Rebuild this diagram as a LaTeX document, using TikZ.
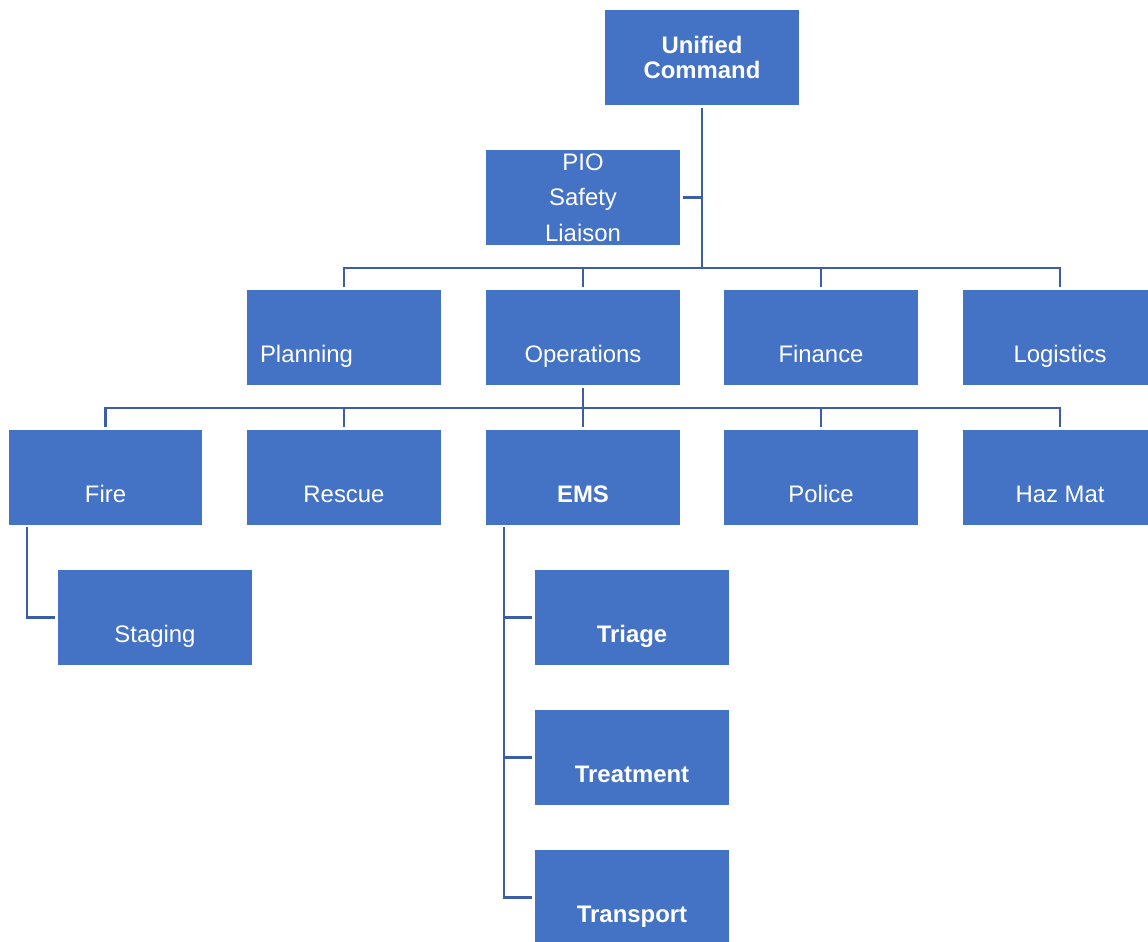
\documentclass[tikz,border=0pt]{standalone}
\usepackage{fontspec}
\setmainfont{Liberation Sans}
\usepackage{tikz}
\usetikzlibrary{positioning}

\definecolor{boxblue}{RGB}{68,114,196}
\definecolor{lineblue}{RGB}{59,94,166}

\tikzset{
    unit/.style={rectangle, fill=boxblue, text=white, minimum width=3.88cm, minimum height=1.9cm,
        inner sep=0pt, outer sep=1.5pt, font=\fontsize{13.6}{16}\selectfont},
    low/.style={text height=1.1cm, text depth=0.12cm},
    strong/.style={font=\bfseries\fontsize{13.6}{16}\selectfont},
    link/.style={draw=lineblue, line width=1.6pt}
}

\begin{document}
\begin{tikzpicture}[x=0.02cm, y=-0.02cm]
    \clip (0, 0) rectangle (1148, 941);
    \fill[white] (0, 0) rectangle (1148, 941);

    % top of the chart
    \node[unit, align=center, font=\bfseries\fontsize{13.6}{13.8}\selectfont] (uc) at (702, 57.5) {Unified\\Command};
    \node[unit, align=center, font=\fontsize{13.6}{20.2}\selectfont] (staff) at (583, 197.5) {PIO\\Safety\\Liaison};

    % sections
    \node[unit, low, text width=3.36cm, align=left] (planning) at (344, 337.5) {Planning};
    \node[unit, low] (operations) at (583, 337.5) {Operations};
    \node[unit, low] (finance) at (821, 337.5) {Finance};
    \node[unit, low] (logistics) at (1060, 337.5) {Logistics};

    % operations branches
    \node[unit, low] (fire) at (105.5, 477.5) {Fire};
    \node[unit, low] (rescue) at (344, 477.5) {Rescue};
    \node[unit, low, strong] (ems) at (583, 477.5) {EMS};
    \node[unit, low] (police) at (821, 477.5) {Police};
    \node[unit, low] (hazmat) at (1060, 477.5) {Haz Mat};

    \node[unit, low] (staging) at (155, 617.5) {Staging};
    \node[unit, low, strong] (triage) at (632, 617.5) {Triage};
    \node[unit, low, strong] (treatment) at (632, 757.5) {Treatment};
    \node[unit, low, strong] (transport) at (632, 897.5) {Transport};

    % connectors
    \coordinate (bus1) at (702, 268);
    \coordinate (bus2) at (583, 408);
    \coordinate (firedrop) at (27, 527);
    \coordinate (emsdrop) at (504, 527);

    \draw[link] (uc.south) -- (bus1);
    \draw[link] (staff.east) -- (staff.east -| bus1);
    \foreach \sect in {planning, operations, finance, logistics}
        \draw[link] (\sect.north) |- (bus1);

    \draw[link] (operations.south) -- (bus2);
    \foreach \branch in {fire, rescue, ems, police, hazmat}
        \draw[link] (\branch.north) |- (bus2);

    \draw[link] (firedrop) |- (staging.west);
    \foreach \team in {triage, treatment, transport}
        \draw[link] (emsdrop) |- (\team.west);
\end{tikzpicture}
\end{document}
